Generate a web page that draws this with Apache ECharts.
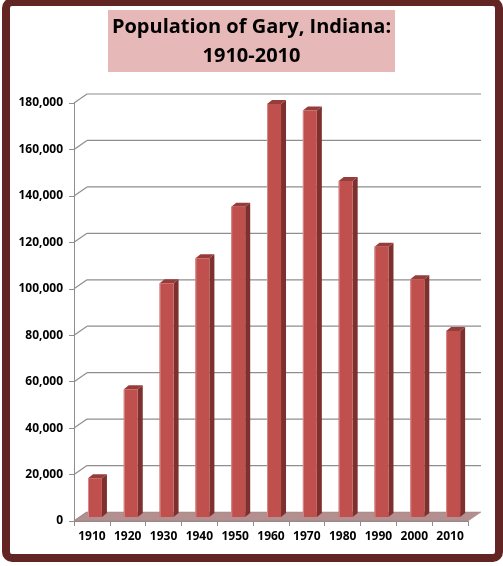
<!DOCTYPE html>
<html>
<head>
<meta charset="utf-8">
<script src="https://cdn.jsdelivr.net/npm/echarts@6/dist/echarts.min.js"></script>
<style>
html,body{margin:0;padding:0;background:#fff;}
#chart{width:503px;height:566px;}
</style>
</head>
<body>
<div id="chart"></div>
<script>
const years = ['1910','1920','1930','1940','1950','1960','1970','1980','1990','2000','2010'];
const population = [16700, 55000, 100700, 111400, 133600, 177900, 175000, 144700, 116400, 102400, 80100];
const yTicks = [0, 20000, 40000, 60000, 80000, 100000, 120000, 140000, 160000, 180000];
const titleText = 'Population of Gary, Indiana:\n1910-2010';

const DX = 13, DY = -9;      // depth of the chart box
const BDX = 5, BDY = -4;     // depth of each column
const FONT = '"Open Sans", "Liberation Sans", sans-serif';
const GRID_COLOR = '#8e8e8e';
const TITLE_W = 287, TITLE_H = 62;

const chart = echarts.init(document.getElementById('chart'), null, {renderer: 'canvas'});

const option = {
  animation: false,
  backgroundColor: '#ffffff',
  graphic: [
    {
      type: 'group',
      left: 'center',
      top: 10,
      z: 50,
      children: [
        {
          type: 'rect',
          shape: {x: 0, y: 0, width: TITLE_W, height: TITLE_H},
          style: {fill: '#e6b8b7'}
        },
        {
          type: 'text',
          x: TITLE_W / 2,
          y: TITLE_H / 2 + 1,
          style: {
            text: titleText,
            font: 'bold 20px ' + FONT,
            fill: '#000',
            textAlign: 'center',
            textVerticalAlign: 'middle',
            align: 'center',
            verticalAlign: 'middle',
            lineHeight: 29
          }
        }
      ]
    },
    {
      type: 'rect',
      shape: {x: 6, y: 2, width: 493, height: 556, r: 6},
      style: {fill: 'none', stroke: '#632523', lineWidth: 8},
      z: 100
    }
  ],
  grid: {left: 74, right: 35, top: 103, bottom: 45, containLabel: false},
  xAxis: {
    type: 'category',
    data: years,
    boundaryGap: true,
    axisLine: {show: true, lineStyle: {color: GRID_COLOR, width: 1}},
    axisTick: {show: true, length: 5, alignWithLabel: false, lineStyle: {color: GRID_COLOR}},
    axisLabel: {
      margin: 10,
      fontFamily: FONT,
      fontWeight: 'bold',
      fontSize: 12,
      color: '#000'
    },
    splitLine: {show: false}
  },
  yAxis: {
    type: 'value',
    min: 0,
    max: 180000,
    interval: 20000,
    axisLine: {show: true, lineStyle: {color: GRID_COLOR, width: 1}},
    axisTick: {show: true, length: 5, lineStyle: {color: GRID_COLOR}},
    axisLabel: {
      margin: 11,
      fontFamily: FONT,
      fontWeight: 'bold',
      fontSize: 12,
      color: '#000',
      formatter: v => v.toLocaleString('en-US')
    },
    splitLine: {show: false}
  },
  series: [
    {
      // back wall gridlines with side-wall diagonals
      type: 'custom',
      z: 1,
      silent: true,
      clip: false,
      data: yTicks.map(v => [0, v]),
      renderItem: function (params, api) {
        const cs = params.coordSys;
        const v = api.value(1);
        const y = api.coord([0, v])[1];
        const x0 = cs.x, x1 = cs.x + cs.width;
        const children = [{
          type: 'line',
          shape: {x1: x0, y1: y, x2: x0 + DX, y2: y + DY},
          style: {stroke: GRID_COLOR, lineWidth: 1.2}
        }];
        if (v > 0) {
          children.push({
            type: 'line',
            shape: {x1: x0 + DX, y1: y + DY, x2: x1 + DX, y2: y + DY},
            style: {stroke: GRID_COLOR, lineWidth: 1.2}
          });
        }
        return {type: 'group', children: children};
      }
    },
    {
      // floor
      type: 'custom',
      z: 2,
      silent: true,
      clip: false,
      data: [[0, 0]],
      renderItem: function (params, api) {
        const cs = params.coordSys;
        const y = api.coord([0, 0])[1];
        const x0 = cs.x, x1 = cs.x + cs.width;
        return {
          type: 'polygon',
          shape: {points: [[x0, y], [x1, y], [x1 + DX, y + DY], [x0 + DX, y + DY]]},
          style: {fill: '#b38f8f', stroke: '#a08080', lineWidth: 0.5}
        };
      }
    },
    {
      // 3D columns
      type: 'custom',
      z: 3,
      clip: false,
      data: population.map((v, i) => [i, v]),
      renderItem: function (params, api) {
        const i = api.value(0), v = api.value(1);
        const base = api.coord([i, 0]);
        const top = api.coord([i, v]);
        const bw = api.size([1, 0])[0];
        const fw = bw * 0.39;
        const left = base[0] - bw * 0.11;
        const right = left + fw;
        const yb = base[1] - 4;
        const yt = top[1] - 4;
        return {
          type: 'group',
          children: [
            {
              type: 'polygon',
              shape: {points: [[right, yt], [right + BDX, yt + BDY], [right + BDX, yb + BDY], [right, yb]]},
              style: {fill: '#7e302e'}
            },
            {
              type: 'polygon',
              shape: {points: [[left, yt], [left + BDX, yt + BDY], [right + BDX, yt + BDY], [right, yt]]},
              style: {fill: '#963c3a'}
            },
            {
              type: 'polygon',
              shape: {points: [[left, yt], [right, yt], [right, yb], [left, yb]]},
              style: {fill: '#c0504d'}
            },
            {
              type: 'line',
              shape: {x1: left + 0.5, y1: yt, x2: left + 0.5, y2: yb},
              style: {stroke: '#d88a88', lineWidth: 1}
            }
          ]
        };
      }
    }
  ]
};

chart.setOption(option);
</script>
</body>
</html>
